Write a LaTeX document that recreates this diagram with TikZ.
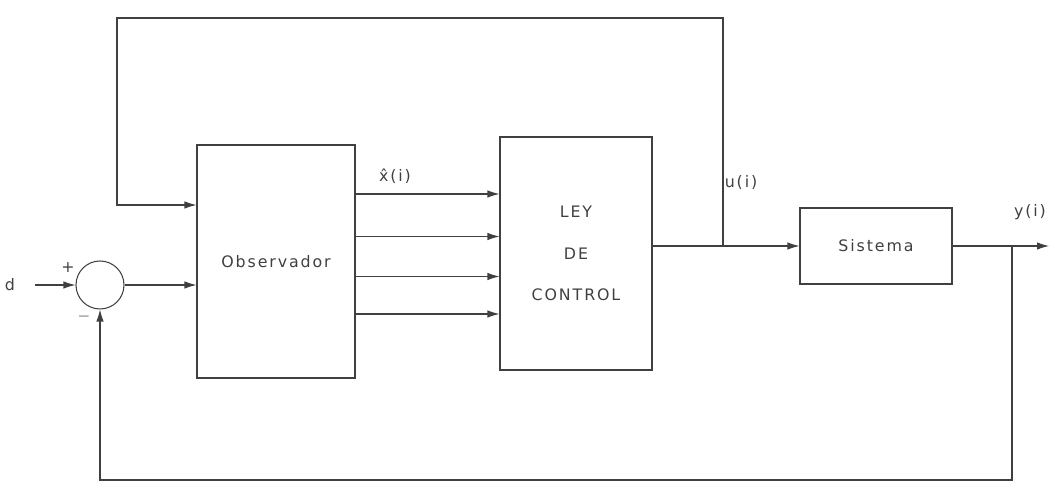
\documentclass[tikz,border=0pt]{standalone}
\usepackage{fontspec}
\newfontfamily\lblfont[LetterSpace=12]{DejaVu Sans}
\usetikzlibrary{positioning}
\usetikzlibrary{arrows.meta}
\tikzset{arr/.style = {-{Latex[length=2.4mm,width=1.5mm]}}}
\tikzset{blk/.style = {draw, rectangle, inner sep = 0}}
\tikzset{lbl/.style = {font=\lblfont\small, text=black!75}}

\begin{document}
\begin{tikzpicture}[black!75, line width=0.6pt]
      \useasboundingbox (0,0) rectangle (20.98,9.88);
      % Blocks
      \node[draw, circle, minimum size=0.96cm] (sum) at (2.0,4.18) {};
      \node[blk, minimum width=3.16cm, minimum height=4.66cm, lbl] (obs) at (5.52,4.65) {Observador};
      \node[blk, minimum width=3.04cm, minimum height=4.66cm, lbl, align=center] (ley) at (11.52,4.81) {LEY\\[0.45cm] DE\\[0.45cm] CONTROL};
      \node[blk, minimum width=3.04cm, minimum height=1.52cm, lbl] (sis) at (17.52,4.96) {Sistema};

      % Input and sum
      \node[lbl] (d) at (0.2,4.18) {d};
      \coordinate (din) at (0.7,4.18);
      \draw[arr] (din) -- (sum.west);
      \node[lbl] (plus) at (1.36,4.52) {+};
      \node[lbl] (minus) at (1.68,3.54) {$-$};
      \draw[arr] (sum.east) -- (obs.west |- sum.east);

      % Estimated state
      \foreach \yy in {6.0,5.15,4.35,3.6}
        \draw[arr] (obs.east |- 0,\yy) -- (ley.west |- 0,\yy);
      \node[lbl] (xhat) at (7.9,6.36) {\^{x}(i)};

      % Control and output
      \coordinate (ubr) at (14.46,4.96);
      \draw[arr] (ley.east |- sis.west) -- (sis.west);
      \node[lbl] (u) at (14.82,6.22) {u(i)};
      \coordinate (yout) at (20.98,4.96);
      \coordinate (ybr) at (20.24,4.96);
      \draw[arr] (sis.east) -- (yout);
      \node[lbl] (y) at (20.6,5.64) {y(i)};

      % Feedback paths
      \coordinate (top) at (2.34,9.52);
      \coordinate (bot) at (2.0,0.28);
      \draw[arr] (ubr) |- (top) |- (obs.west |- 0,5.78);
      \draw[arr] (ybr) |- (bot) -- (sum.south);
    \end{tikzpicture}
\end{document}
